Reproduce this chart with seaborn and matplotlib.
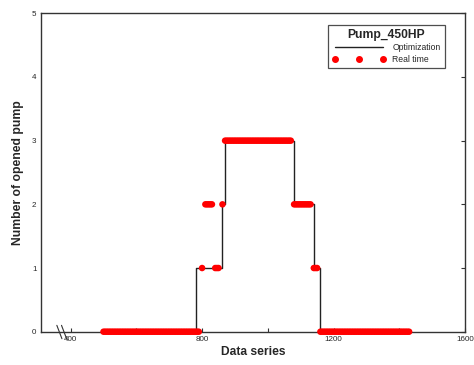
import numpy as np
import pandas as pd
import matplotlib
matplotlib.use("Agg")
import matplotlib.pyplot as plt
import seaborn as sns
from matplotlib.lines import Line2D

# optimization schedule (step changes)
opt_x = [500, 780, 860, 870, 1080, 1140, 1160, 1430]
opt_y = [0, 1, 2, 3, 2, 1, 0, 0]

# real time measurements, one every 5 samples
rt_segments = [
    (500, 790, 0),
    (800, 800, 1),
    (810, 830, 2),
    (840, 850, 1),
    (862, 862, 2),
    (870, 1070, 3),
    (1080, 1130, 2),
    (1140, 1150, 1),
    (1160, 1430, 0),
]
rt_x = []
rt_y = []
for a, b, v in rt_segments:
    for xx in range(a, b + 1, 5):
        rt_x.append(xx)
        rt_y.append(v)

x_ticks = [400, 800, 1200, 1600]
y_ticks = [0, 1, 2, 3, 4, 5]

sns.set_style("white")
plt.rcParams['font.family'] = ['Liberation Sans', 'DejaVu Sans']

fig = plt.figure(figsize=(4.74, 3.65), dpi=100)
ax = fig.add_axes([0.0859, 0.0912, 0.981 - 0.0859, 0.9636 - 0.0912])

opt = pd.DataFrame({'x': opt_x, 'y': opt_y})
rt = pd.DataFrame({'x': rt_x, 'y': rt_y})

ax.plot(opt.x, opt.y, drawstyle='steps-post', color='#222222', lw=1.0, zorder=2)
sns.scatterplot(data=rt, x='x', y='y', ax=ax, color='#ff0000', s=22,
                edgecolor='none', zorder=3, clip_on=False, legend=False)

ax.set_xlim(309, 1600)
ax.set_ylim(0, 5)
ax.set_xticks(x_ticks)
ax.set_xticks([600, 1000, 1400], minor=True)
ax.set_yticks(y_ticks)
ax.tick_params(axis='both', which='both', direction='in', labelsize=5.8,
               length=3, width=0.8, color='#333333', pad=3)
ax.tick_params(axis='y', right=True)
ax.tick_params(axis='x', which='both', bottom=True)
for s in ax.spines.values():
    s.set_color('#333333')
    s.set_linewidth(1.0)

ax.set_xlabel('Data series', fontsize=8.7, fontweight='bold', labelpad=2)
ax.set_ylabel('Number of opened pump', fontsize=8.7, fontweight='bold', labelpad=6)

# axis break marks
for dx in (0.0, 0.011):
    ax.plot([0.038 + dx, 0.05 + dx], [0.02, -0.022], transform=ax.transAxes,
            color='#333333', lw=0.8, clip_on=False)

handles = [
    Line2D([0], [0], color='#222222', lw=1.0),
    Line2D([0], [0], color='#ff0000', marker='o', ls='none', markersize=4),
]
leg = ax.legend(handles, ['Optimization', 'Real time'], title='Pump_450HP',
                loc='upper right', bbox_to_anchor=(0.963, 0.978), fontsize=6.2,
                title_fontproperties={'weight': 'bold', 'size': 8.7},
                frameon=True, fancybox=False, edgecolor='#222222',
                handlelength=6.2, numpoints=3, borderpad=0.5,
                labelspacing=0.3, handletextpad=0.8)
leg.get_frame().set_linewidth(0.9)

fig.savefig('out.png', dpi=100)
